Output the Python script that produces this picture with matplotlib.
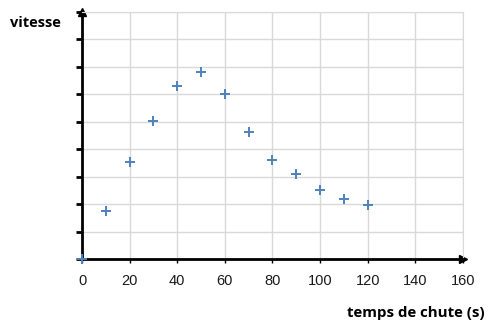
import numpy as np
import matplotlib.pyplot as plt

# temps de chute (s) et vitesse (unités arbitraires)
temps = [0, 10, 20, 30, 40, 50, 60, 70, 80, 90, 100, 110, 120]
vitesse = [0, 1.76, 3.54, 5.01, 6.29, 6.82, 6.02, 4.61, 3.62, 3.09, 2.53, 2.19, 1.95]
x_ticks = [0, 20, 40, 60, 80, 100, 120, 140, 160]

fig = plt.figure(figsize=(4.94, 3.30), dpi=100)
ax = fig.add_axes([0.166, 0.215, 0.771, 0.749])

ax.scatter(temps, vitesse, marker='+', s=45, color='#4f81bd', linewidths=1.4,
           zorder=5, clip_on=False)

ax.set_xlim(0, 160)
ax.set_ylim(0, 9)
ax.set_xticks(x_ticks)
ax.set_yticks(np.arange(0, 10, 1))
ax.set_yticklabels([])
ax.grid(True, color='#d9d9d9', linewidth=1)
ax.set_axisbelow(True)

for side in ['top', 'right']:
    ax.spines[side].set_color('#d9d9d9')
for side in ['left', 'bottom']:
    ax.spines[side].set_linewidth(2)
    ax.spines[side].set_color('black')

ax.tick_params(axis='y', length=4, width=2, color='black')
ax.tick_params(axis='x', length=3, width=1, color='black', pad=8,
               labelsize=10.5, labelcolor='#1a1a1a')
for lbl in ax.get_xticklabels():
    lbl.set_family('Liberation Sans')

# flèches au bout des axes
ax.plot(1, 0, '>k', transform=ax.transAxes, clip_on=False, markersize=6)
ax.plot(0, 1, '^k', transform=ax.transAxes, clip_on=False, markersize=6)

fig.text(0.02, 0.930, 'vitesse', fontsize=10.5, fontweight='bold',
         family='Open Sans', va='center')
fig.text(0.982, 0.04, 'temps de chute (s)', fontsize=10.8, fontweight='bold',
         family='Open Sans', ha='right')

fig.savefig('out.png', dpi=100)
